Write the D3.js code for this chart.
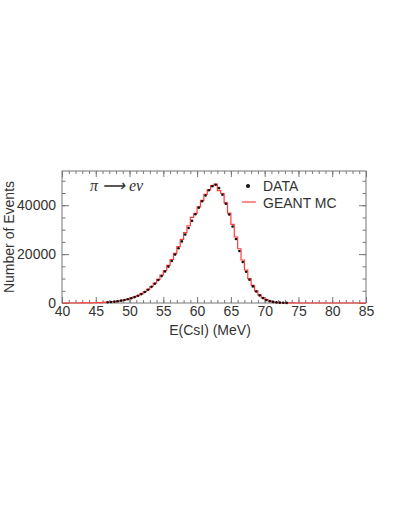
<!DOCTYPE html>
<html>
<head>
<meta charset="utf-8">
<script src="https://cdn.jsdelivr.net/npm/d3@7"></script>
<style>
  body { margin: 0; background: #fff; }
  text { font-family: "Liberation Sans", Arial, sans-serif; fill: #333; }
</style>
</head>
<body>
<div id="chart"></div>
<script>
var svgWidth = 409;
var svgHeight = 529;

var margin = { top: 171, left: 62, right: 43, bottom: 226 };
var width = svgWidth - margin.left - margin.right;
var height = svgHeight - margin.top - margin.bottom;

// lower edges of the 0.5 MeV bins from 40 to 85
var binLow = d3.range(90).map(i => 40 + i * 0.5);

// measured counts per bin
var dataCounts = [
  0, 0, 0, 0, 0, 0, 0, 0, 0, 0, 0, 0,
  0, 320, 420, 560, 740, 960, 1230, 1560, 1950, 2420, 2980, 3650,
  4500, 5400, 6600, 7900, 9400, 11000, 12900, 14900, 17200, 19800, 22400, 25200,
  28000, 30700, 33600, 36300, 39000, 41600, 44000, 46100, 47800, 48400, 47000, 44300,
  40600, 36200, 31300, 26200, 21300, 16800, 12800, 9500, 6800, 4700, 3100, 2000,
  1250, 760, 440, 250, 140, 75, 40, 0, 0, 0,
  0, 0, 0, 0, 0, 0, 0, 0, 0, 0, 0, 0, 0, 0, 0, 0, 0, 0, 0, 0
];

// GEANT MC histogram
var mcCounts = [
  0, 0, 0, 0, 10, 20, 30, 50, 70, 100, 140, 190,
  250, 330, 440, 580, 760, 990, 1270, 1600, 2000, 2480, 3050, 3750,
  4600, 5550, 6750, 8100, 9700, 11400, 13300, 15400, 17800, 20300, 23100, 26000,
  28800, 31600, 35000, 36700, 39300, 42000, 44400, 46400, 48000, 48600, 46000, 44800,
  41000, 36800, 32200, 27000, 22200, 17600, 13500, 10000, 7200, 5000, 3300, 2100,
  1350, 820, 480, 280, 150, 80, 45, 25, 12, 6,
  3, 2, 1, 0, 0, 0, 0, 0, 0, 0, 0, 0, 0, 0, 0, 0, 0, 0, 0, 0
];

var xMajor = [40, 45, 50, 55, 60, 65, 70, 75, 80, 85];
var yMajor = [0, 20000, 40000];

var svg = d3.select("#chart")
  .append("svg")
  .attr("width", svgWidth)
  .attr("height", svgHeight);

var chartGroup = svg.append("g")
  .attr("transform", `translate(${margin.left}, ${margin.top})`);

var xScale = d3.scaleLinear().domain([40, 85]).range([0, width]);
var yScale = d3.scaleLinear().domain([0, 54000]).range([height, 0]);

var frameColor = "#777";

function styleAxis(g) {
  g.select(".domain").remove();
  g.selectAll("line").attr("stroke", frameColor);
  g.selectAll("text")
    .style("font-family", "Liberation Sans, Arial, sans-serif")
    .style("font-size", "14px")
    .attr("fill", "#3a3a3a");
}

// minor ticks, every side, pointing inward
var xMinor = d3.range(40, 86, 1);
var yMinor = d3.range(0, 54001, 5000);

chartGroup.append("g")
  .attr("transform", `translate(0, ${height})`)
  .call(d3.axisBottom(xScale).tickValues(xMinor).tickSize(-3).tickFormat(""))
  .call(styleAxis);
chartGroup.append("g")
  .call(d3.axisTop(xScale).tickValues(xMinor).tickSize(-3).tickFormat(""))
  .call(styleAxis);
chartGroup.append("g")
  .call(d3.axisLeft(yScale).tickValues(yMinor).tickSize(-3.5).tickFormat(""))
  .call(styleAxis);
chartGroup.append("g")
  .attr("transform", `translate(${width}, 0)`)
  .call(d3.axisRight(yScale).tickValues(yMinor).tickSize(-3.5).tickFormat(""))
  .call(styleAxis);

// major ticks
chartGroup.append("g")
  .attr("transform", `translate(0, ${height})`)
  .call(d3.axisBottom(xScale).tickValues(xMajor).tickSize(-6).tickPadding(3).tickFormat(d3.format("d")))
  .call(styleAxis);
chartGroup.append("g")
  .call(d3.axisTop(xScale).tickValues(xMajor).tickSize(-6).tickFormat(""))
  .call(styleAxis);
chartGroup.append("g")
  .call(d3.axisLeft(yScale).tickValues(yMajor).tickSize(-7).tickPadding(6).tickFormat(d3.format("d")))
  .call(styleAxis);
chartGroup.append("g")
  .attr("transform", `translate(${width}, 0)`)
  .call(d3.axisRight(yScale).tickValues(yMajor).tickSize(-7).tickFormat(""))
  .call(styleAxis);

// frame
chartGroup.append("rect")
  .attr("x", 0)
  .attr("y", 0)
  .attr("width", width)
  .attr("height", height)
  .attr("fill", "none")
  .attr("stroke", frameColor)
  .attr("stroke-width", 1);

// MC histogram as steps
var mcPoints = binLow.map((x, i) => [x, mcCounts[i]]);
mcPoints.push([85, mcCounts[mcCounts.length - 1]]);

var stepLine = d3.line()
  .x(d => xScale(d[0]))
  .y(d => yScale(d[1]))
  .curve(d3.curveStepAfter);

chartGroup.append("path")
  .datum(mcPoints)
  .attr("d", stepLine)
  .attr("fill", "none")
  .attr("stroke", "#ff3b3b")
  .attr("stroke-width", 1.2);

// data points
var dataPoints = binLow.map((x, i) => ({ e: x + 0.25, n: dataCounts[i] }))
  .filter(d => d.n > 0);

chartGroup.selectAll("circle.data")
  .data(dataPoints)
  .enter()
  .append("circle")
  .attr("class", "data")
  .attr("cx", d => xScale(d.e))
  .attr("cy", d => yScale(d.n))
  .attr("r", 1.3)
  .attr("fill", "#111");

// process label
chartGroup.append("text")
  .attr("x", 28)
  .attr("y", 20)
  .style("font-family", "Liberation Serif, Times, serif")
  .style("font-style", "italic")
  .style("font-size", "16px")
  .attr("fill", "#222")
  .text("π ⟶ eν");

// legend
chartGroup.append("circle")
  .attr("cx", 186)
  .attr("cy", 15)
  .attr("r", 2)
  .attr("fill", "#111");
chartGroup.append("text")
  .attr("x", 201)
  .attr("y", 20)
  .style("font-size", "14px")
  .text("DATA");

chartGroup.append("line")
  .attr("x1", 180)
  .attr("x2", 194)
  .attr("y1", 31)
  .attr("y2", 31)
  .attr("stroke", "#ff3b3b")
  .attr("stroke-width", 1.2);
chartGroup.append("text")
  .attr("x", 201)
  .attr("y", 37)
  .style("font-size", "14px")
  .text("GEANT MC");

// axis titles
chartGroup.append("text")
  .attr("x", 148)
  .attr("y", height + 32)
  .attr("text-anchor", "middle")
  .style("font-size", "14px")
  .text("E(CsI) (MeV)");

chartGroup.append("text")
  .attr("transform", "rotate(-90)")
  .attr("x", -height / 2)
  .attr("y", -48)
  .attr("text-anchor", "middle")
  .style("font-size", "14px")
  .text("Number of Events");
</script>
</body>
</html>
